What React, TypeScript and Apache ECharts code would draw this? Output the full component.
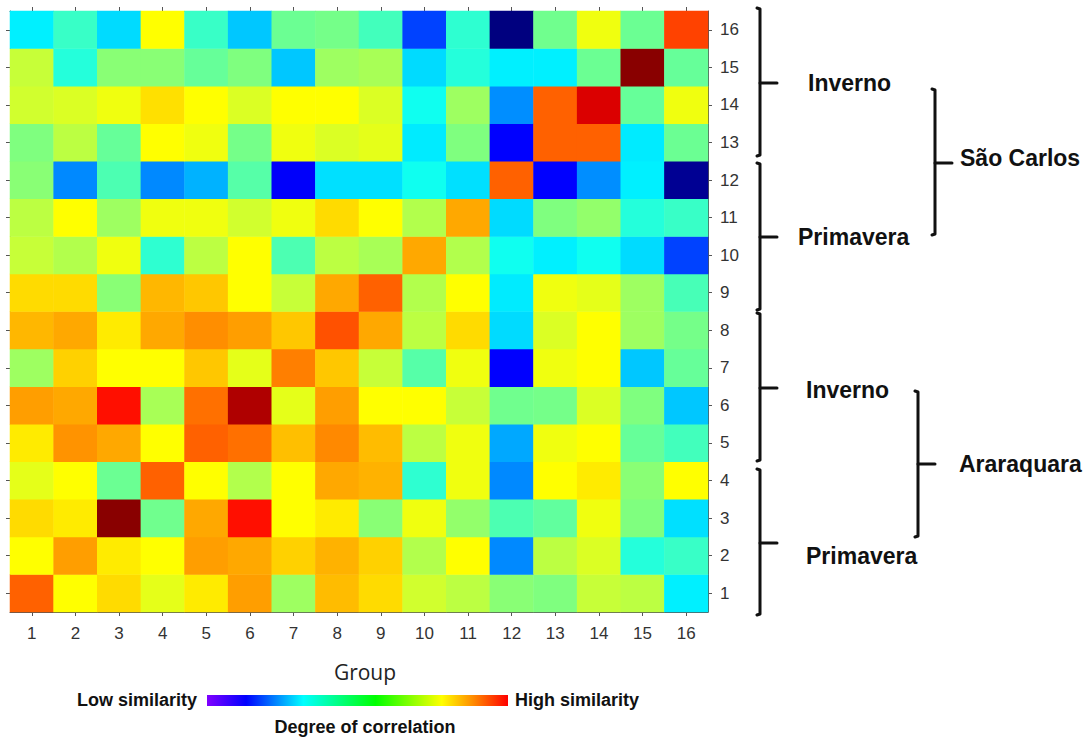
import React, { useEffect, useRef } from "react";
import * as echarts from "echarts";

// Group labels (1..16) shared by both axes
const groups = ["1", "2", "3", "4", "5", "6", "7", "8", "9", "10", "11", "12", "13", "14", "15", "16"];

// Correlation between groups, one array per row group (1 = bottom row), columns 1..16
const row1 = [0.78, 0.625, 0.66, 0.6, 0.645, 0.72, 0.53, 0.69, 0.66, 0.58, 0.56, 0.51, 0.5, 0.57, 0.56, 0.36];
const row2 = [0.625, 0.72, 0.645, 0.625, 0.72, 0.71, 0.67, 0.7, 0.67, 0.55, 0.625, 0.26, 0.56, 0.59, 0.41, 0.43];
const row3 = [0.66, 0.645, 0.99, 0.485, 0.71, 0.86, 0.625, 0.645, 0.51, 0.61, 0.52, 0.45, 0.47, 0.61, 0.5, 0.345];
const row4 = [0.6, 0.625, 0.48, 0.78, 0.625, 0.55, 0.625, 0.71, 0.7, 0.42, 0.61, 0.26, 0.625, 0.645, 0.51, 0.625];
const row5 = [0.645, 0.73, 0.71, 0.625, 0.78, 0.765, 0.6875, 0.74, 0.69, 0.56, 0.61, 0.29, 0.61, 0.625, 0.475, 0.44];
const row6 = [0.72, 0.71, 0.86, 0.54, 0.765, 0.953, 0.6, 0.72, 0.625, 0.625, 0.57, 0.485, 0.49, 0.59, 0.5, 0.32];
const row7 = [0.53, 0.67, 0.625, 0.625, 0.68, 0.6, 0.75, 0.68, 0.57, 0.46, 0.61, 0.125, 0.61, 0.625, 0.32, 0.475];
const row8 = [0.695, 0.71, 0.645, 0.71, 0.735, 0.72, 0.68, 0.795, 0.71, 0.56, 0.66, 0.34, 0.59, 0.625, 0.53, 0.49];
const row9 = [0.66, 0.66, 0.51, 0.695, 0.68, 0.625, 0.57, 0.71, 0.78, 0.55, 0.625, 0.355, 0.61, 0.6, 0.53, 0.445];
const row10 = [0.57, 0.55, 0.61, 0.42, 0.56, 0.625, 0.45, 0.56, 0.54, 0.71, 0.55, 0.39, 0.36, 0.39, 0.34, 0.19];
const row11 = [0.56, 0.625, 0.53, 0.61, 0.61, 0.58, 0.61, 0.66, 0.625, 0.55, 0.71, 0.34, 0.5, 0.52, 0.41, 0.43];
const row12 = [0.51, 0.26, 0.45, 0.26, 0.3, 0.46, 0.12, 0.345, 0.345, 0.39, 0.345, 0.78, 0.125, 0.265, 0.36, 0.02];
const row13 = [0.5, 0.56, 0.475, 0.625, 0.61, 0.49, 0.61, 0.59, 0.6, 0.355, 0.5, 0.125, 0.78, 0.78, 0.355, 0.48];
const row14 = [0.58, 0.59, 0.61, 0.655, 0.625, 0.59, 0.625, 0.625, 0.59, 0.39, 0.53, 0.265, 0.78, 0.91, 0.475, 0.61];
const row15 = [0.57, 0.41, 0.51, 0.51, 0.475, 0.5, 0.32, 0.53, 0.54, 0.34, 0.41, 0.36, 0.36, 0.48, 0.99, 0.475];
const row16 = [0.36, 0.43, 0.34, 0.625, 0.43, 0.32, 0.48, 0.49, 0.44, 0.19, 0.42, 0.0, 0.485, 0.61, 0.48, 0.81];

const rows = [row1, row2, row3, row4, row5, row6, row7, row8, row9, row10, row11, row12, row13, row14, row15, row16];

// Jet colour map, evenly spaced stops over [0, 1]
const jet = ["#00007f", "#0000ff", "#007fff", "#00ffff", "#7fff7f", "#ffff00", "#ff7f00", "#ff0000", "#7f0000"];

const FONT = "'Liberation Sans', Arial, sans-serif";
const AXIS_COLOR = "#555";

function bracket(x: number, top: number, bottom: number, tickY: number, tickLen: number) {
  const style = { stroke: "#111", lineWidth: 3, fill: "none", lineJoin: "round", lineCap: "round" };
  return [
    { type: "polyline", shape: { points: [[x - 3, top], [x, top + 1], [x, bottom - 1], [x - 3, bottom]] }, style },
    { type: "line", shape: { x1: x, y1: tickY, x2: x + tickLen, y2: tickY }, style },
  ];
}

function label(text: string, x: number, y: number, size = 23, align = "left") {
  return {
    type: "text",
    x,
    y,
    style: { text, fill: "#111", font: `bold ${size}px ${FONT}`, textAlign: align, textVerticalAlign: "middle" },
  };
}

export default function App() {
  const ref = useRef<HTMLDivElement>(null);

  useEffect(() => {
    if (!ref.current) return;
    const chart = echarts.init(ref.current, null, { renderer: "svg" });

    const data: number[][] = [];
    rows.forEach((r, yi) => r.forEach((v, xi) => data.push([xi, yi, v])));

    const axisCommon = {
      type: "category",
      data: groups,
      boundaryGap: true,
      axisLine: { show: true, lineStyle: { color: AXIS_COLOR, width: 1 } },
      axisTick: { show: true, alignWithLabel: true, length: 4, inside: false, lineStyle: { color: AXIS_COLOR } },
      splitLine: { show: false },
    };

    chart.setOption({
      animation: false,
      backgroundColor: "#fff",
      grid: { left: 10, top: 11, width: 698, height: 601, containLabel: false },
      xAxis: [
        {
          ...axisCommon,
          position: "bottom",
          axisLabel: { color: "#333", fontSize: 17, fontFamily: FONT, margin: 13 },
        },
        { ...axisCommon, position: "top", axisLabel: { show: false } },
      ],
      yAxis: [
        {
          ...axisCommon,
          position: "right",
          axisLabel: { color: "#333", fontSize: 17, fontFamily: FONT, margin: 12, align: "left" },
        },
        { ...axisCommon, position: "left", axisLabel: { show: false } },
      ],
      visualMap: {
        show: false,
        type: "continuous",
        min: 0,
        max: 1,
        dimension: 2,
        inRange: { color: jet },
      },
      series: [
        {
          type: "heatmap",
          xAxisIndex: 0,
          yAxisIndex: 0,
          data,
          itemStyle: { borderWidth: 0 },
          emphasis: { disabled: true },
        },
      ],
      graphic: [
        {
          type: "text",
          x: 365,
          y: 672,
          style: { text: "Group", fill: "#222", font: `21px 'Open Sans', ${FONT}`, textAlign: "center", textVerticalAlign: "middle" },
        },
        {
          type: "rect",
          shape: { x: 207, y: 695, width: 301, height: 11 },
          style: {
            fill: new echarts.graphic.LinearGradient(0, 0, 1, 0, [
              { offset: 0, color: "#8000ff" },
              { offset: 0.13, color: "#0000ff" },
              { offset: 0.32, color: "#00ffff" },
              { offset: 0.56, color: "#00ff00" },
              { offset: 0.78, color: "#ffff00" },
              { offset: 0.88, color: "#ff9000" },
              { offset: 1, color: "#ff0000" },
            ]),
          },
        },
        label("Low similarity", 197, 700, 18, "right"),
        label("High similarity", 515, 700, 18, "left"),
        label("Degree of correlation", 365, 727, 18, "center"),
        ...bracket(760, 8, 156, 83, 17),
        ...bracket(760, 163, 310, 237, 17),
        ...bracket(935, 89, 235, 163, 17),
        ...bracket(760, 313, 461, 388, 17),
        ...bracket(760, 469, 615, 543, 17),
        ...bracket(918, 391, 537, 464, 17),
        label("Inverno", 808, 83),
        label("Primavera", 798, 237),
        label("São Carlos", 960, 158),
        label("Inverno", 806, 390),
        label("Primavera", 806, 556),
        label("Araraquara", 959, 464),
      ],
    });

    return () => chart.dispose();
  }, []);

  return <div ref={ref} style={{ position: "absolute", left: 0, top: 0, width: 1086, height: 738 }} />;
}
